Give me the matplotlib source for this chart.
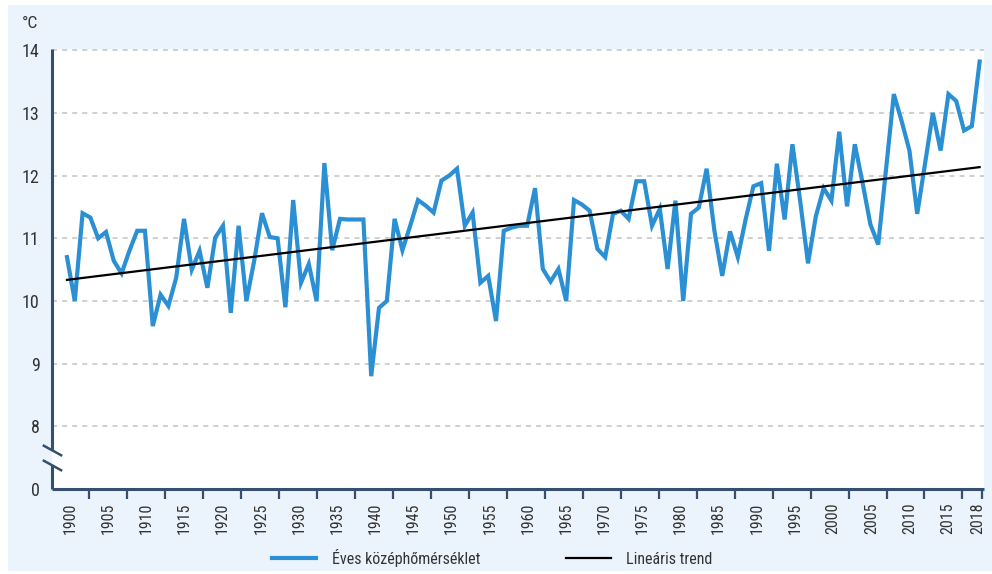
import numpy as np
import matplotlib
matplotlib.use("Agg")
import matplotlib.pyplot as plt
from matplotlib.patches import Rectangle

plt.rcParams["font.family"] = ["Roboto Condensed", "Roboto", "DejaVu Sans"]

# annual mean temperature, 1901-2018 (°C)
years = np.arange(1901, 2019)
temps = [
    10.7, 10.0, 11.4, 11.33, 11.0, 11.1, 10.64, 10.44, 10.8, 11.12,
    11.12, 9.6, 10.1, 9.92, 10.37, 11.31, 10.5, 10.8, 10.21, 11.01,
    11.2, 9.81, 11.2, 10.0, 10.64, 11.4, 11.02, 11.0, 9.9, 11.61,
    10.29, 10.59, 10.0, 12.2, 10.81, 11.31, 11.3, 11.3, 11.3, 8.8,
    9.89, 10.0, 11.31, 10.81, 11.2, 11.61, 11.52, 11.41, 11.92, 12.0,
    12.11, 11.2, 11.41, 10.29, 10.4, 9.68, 11.12, 11.17, 11.2, 11.2,
    11.8, 10.51, 10.31, 10.51, 10.0, 11.61, 11.54, 11.44, 10.83, 10.7,
    11.39, 11.44, 11.31, 11.91, 11.91, 11.2, 11.47, 10.51, 11.6, 10.0,
    11.39, 11.49, 12.11, 11.12, 10.4, 11.11, 10.7, 11.3, 11.83, 11.88,
    10.8, 12.19, 11.3, 12.5, 11.59, 10.6, 11.35, 11.8, 11.6, 12.7,
    11.51, 12.5, 11.88, 11.22, 10.9, 12.1, 13.3, 12.87, 12.4, 11.39,
    12.19, 13.0, 12.4, 13.3, 13.19, 12.72, 12.79, 13.82,
]
label_years = list(range(1900, 2016, 5)) + [2018]
y_ticks = [7, 8, 9, 10, 11, 12, 13, 14]
y_labels = ["0", "8", "9", "10", "11", "12", "13", "14"]

series_name = "Éves középhőmérséklet"
trend_name = "Lineáris trend"

BLUE = "#2b8fd3"
AXIS = "#34506e"
TEXT = "#333333"

fig = plt.figure(figsize=(9.92, 5.74), dpi=100, facecolor="white")
fig.patches.append(Rectangle((8 / 992, 3 / 574), 984 / 992, 566 / 574,
                             transform=fig.transFigure, facecolor="#ebf4fc",
                             edgecolor="none", zorder=-10))
ax = fig.add_axes([52 / 992, 85 / 574, 932 / 992, 440 / 574])
ax.set_facecolor("white")

# linear trend fitted to the series
coef = np.polyfit(years, temps, 1)
trend = np.polyval(coef, years)

ax.plot(years, temps, color=BLUE, lw=3.0, solid_joinstyle="miter", zorder=3,
        label=series_name)
ax.plot(years, trend, color="black", lw=1.6, zorder=4, label=trend_name)

ax.set_xlim(1899.08, 2018.56)
ax.set_ylim(7, 14.02)

for v in y_ticks[1:]:
    ax.axhline(v, color="#c2c2c2", lw=1.1, ls=(0, (3.3, 3.3)), zorder=1)

# axes lines, with a break in the y axis between 0 and 8
for s in ax.spines.values():
    s.set_visible(False)
yt = ax.get_yaxis_transform()
ax.plot([0, 1], [7, 7], transform=yt, color=AXIS, lw=2.2, clip_on=False,
        zorder=5, solid_capstyle="butt")
ax.plot([0, 0], [7, 7.39], transform=yt, color=AXIS, lw=2.2, clip_on=False,
        zorder=5, solid_capstyle="butt")
ax.plot([0, 0], [7.62, 14.02], transform=yt, color=AXIS, lw=2.2,
        clip_on=False, zorder=5, solid_capstyle="butt")
ax.plot([0, 0], [7.39, 7.62], transform=yt, ls="none",
        marker=[(-1, 0.55), (1, -0.55)], ms=14, mew=1.8, mec=AXIS,
        clip_on=False, zorder=5)

ax.set_yticks(y_ticks, labels=y_labels)
ax.tick_params(axis="y", length=0, pad=9, labelsize=13, labelcolor=TEXT)

label_pos = list(np.linspace(1901.4, 2013.9, len(label_years) - 1)) + [2017.7]
ax.set_xticks(label_pos, labels=[str(y) for y in label_years], rotation=90)
ax.set_xticks(list(np.linspace(1903.8, 2015.8, 24)) + [2018.3], minor=True)
ax.tick_params(axis="x", which="major", length=0, pad=10, labelsize=11.5,
               labelcolor=TEXT)
ax.tick_params(axis="x", which="minor", length=7, width=1.6, color=AXIS,
               direction="out")

fig.text(30 / 992, 1 - 24 / 574, "°C", ha="center", va="center",
         fontsize=12.5, color=TEXT)

fig.legend(loc="center", bbox_to_anchor=(492 / 992, 1 - 558 / 574), ncol=2,
           frameon=False, fontsize=11.5, handlelength=2.8, handletextpad=0.95,
           columnspacing=5.4, labelcolor=TEXT)

fig.savefig("out.png", dpi=100, facecolor=fig.get_facecolor())
